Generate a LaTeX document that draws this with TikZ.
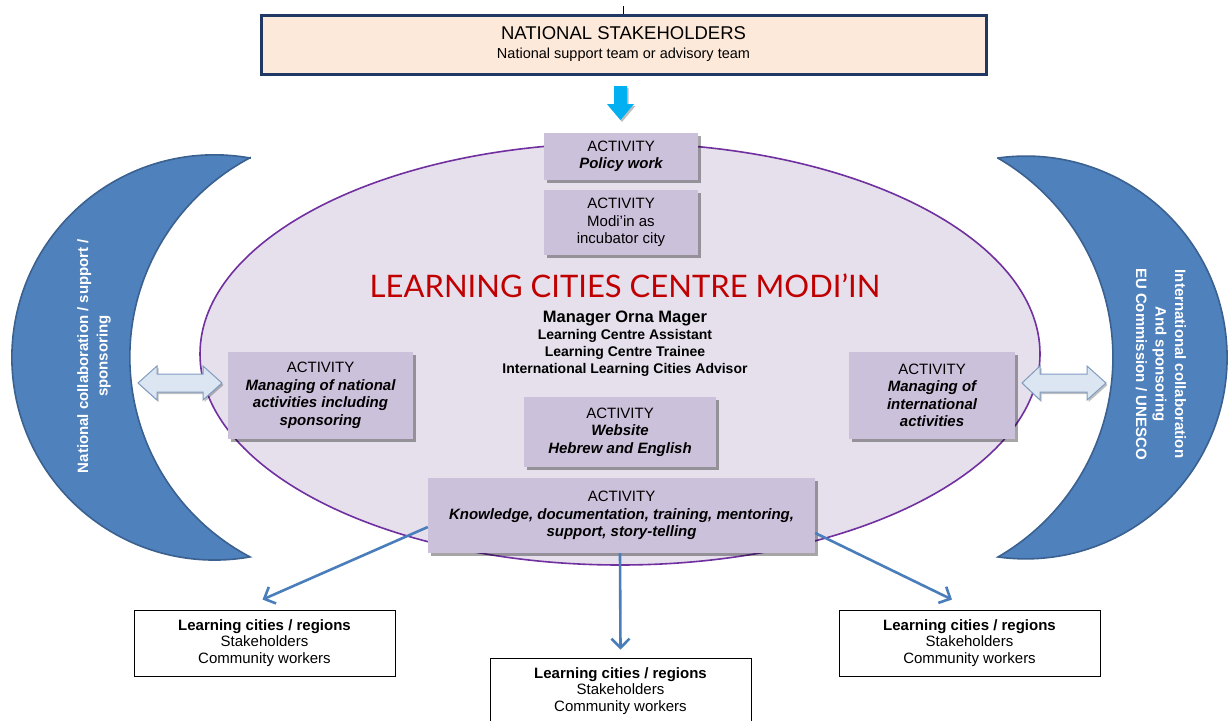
\documentclass[tikz,border=0pt]{standalone}
\usepackage{fontspec}
\setmainfont{Liberation Sans}
\newfontfamily\titlefont{Lato}
\usetikzlibrary{shadows,arrows.meta}

\definecolor{peach}{HTML}{FDE9D9}
\definecolor{navy}{HTML}{1F3864}
\definecolor{lilac}{HTML}{E6E0EC}
\definecolor{plum}{HTML}{7030A0}
\definecolor{actfill}{HTML}{CCC1DA}
\definecolor{moon}{HTML}{4F81BD}
\definecolor{moonedge}{HTML}{3A6190}
\definecolor{linkblue}{HTML}{4A7EBB}
\definecolor{sky}{HTML}{00B0F0}
\definecolor{pale}{HTML}{DCE6F2}
\definecolor{paleedge}{HTML}{7F9CC0}
\definecolor{titlered}{HTML}{C00000}

\begin{document}
\begin{tikzpicture}[x=1pt,y=1pt,
  act/.style={fill=actfill, draw=none, align=center, inner sep=0pt,
    font=\bfseries\itshape\fontsize{15}{17.5}\selectfont,
    drop shadow={shadow xshift=2.5pt,shadow yshift=-3pt,fill=black,opacity=0.35}},
  city/.style={draw=black, line width=0.9pt, fill=white, minimum width=261pt,
    minimum height=66pt, align=center, inner sep=0pt,
    font=\fontsize{15}{16.5}\selectfont},
  link/.style={draw=linkblue, line width=2.6pt,
    -{Straight Barb[length=9pt,width=18pt]}},
  moonshape/.style={fill=moon, draw=moonedge, line width=1.6pt},
  twoway/.style={fill=pale, draw=paleedge, line width=1pt,
    drop shadow={shadow xshift=1.5pt,shadow yshift=-2pt,fill=black,opacity=0.25}},
  moontext/.style={text=white, align=center,
    font=\bfseries\fontsize{15}{19.5}\selectfont},
]
% canvas
\fill[white] (0,0) rectangle (1228,-720);
\useasboundingbox (0,0) rectangle (1228,-720);

% side crescents
\path[moonshape] (250,-158)
  arc[start angle=79.9, end angle=280.1, radius=202.6pt]
  arc[start angle=242.1, end angle=117.9, radius=225.8pt] -- cycle;
\path[moonshape] (998,-158)
  arc[start angle=97.9, end angle=-97.9, radius=201.4pt]
  arc[start angle=-59.9, end angle=59.9, radius=230.5pt] -- cycle;
\node[moontext, rotate=90] (nattext) at (94,-356)
  {National collaboration / support /\\ sponsoring};
\node[moontext, rotate=-90] (inttext) at (1161,-364)
  {International collaboration\\ And sponsoring\\ EU Commission / UNESCO};

% the centre
\draw[fill=lilac, draw=plum, line width=1.6pt] (620,-354) ellipse [x radius=420pt, y radius=211pt];
\node[text=titlered, font=\titlefont\fontsize{31}{31}\selectfont, anchor=base] (title)
  at (625,-297) {LEARNING CITIES CENTRE MODI’IN};
\node[align=center, inner sep=0pt, font=\bfseries\fontsize{14}{17}\selectfont] (staff)
  at (625,-343.5)
  {{\fontsize{16.5}{17}\selectfont Manager Orna Mager}\\
   Learning Centre Assistant\\ Learning Centre Trainee\\ International Learning Cities Advisor};

% national stakeholders
\node[draw=navy, line width=3pt, fill=peach, minimum width=725pt, minimum height=59pt,
  inner sep=0pt, align=center, font=\fontsize{14.5}{19}\selectfont] (top) at (623.5,-44.5)
  {{\fontsize{18.5}{19}\selectfont NATIONAL STAKEHOLDERS}\\ National support team or advisory team};
\draw[line width=1.2pt] (top.north) -- ++(0,8);

% activities
\node[act, minimum width=154pt, minimum height=47pt] (policy) at (621,-156.5)
  {\textnormal{ACTIVITY}\\ Policy work};
\node[act, minimum width=154pt, minimum height=65pt] (modiin) at (621,-222.5)
  {\textnormal{ACTIVITY}\\ \textnormal{Modi’in as}\\ \textnormal{incubator city}};
\node[act, minimum width=185pt, minimum height=87pt] (natact) at (320.5,-395.5)
  {\textnormal{ACTIVITY}\\ Managing of national\\ activities including\\ sponsoring};
\node[act, minimum width=166pt, minimum height=87pt] (intact) at (932,-395.5)
  {\textnormal{ACTIVITY}\\ Managing of\\ international\\ activities};
\node[act, minimum width=192pt, minimum height=70pt] (web) at (620,-432)
  {\textnormal{ACTIVITY}\\ Website\\ Hebrew and English};
\node[act, minimum width=387pt, minimum height=75pt] (know) at (621.5,-515.5)
  {\textnormal{ACTIVITY}\\ Knowledge, documentation, training, mentoring,\\ support, story-telling};

% block arrows
\fill[sky, drop shadow={shadow xshift=1.5pt,shadow yshift=-2pt,fill=black,opacity=0.25}]
  (614,-86) -- (627,-86) -- (627,-104) -- (634,-104) -- (620.5,-120)
  -- (607,-104) -- (614,-104) -- cycle;
\path[twoway] (138,-383) -- (157,-366) -- (157,-374) -- (203,-374) -- (203,-366)
  -- (222,-383) -- (203,-400) -- (203,-392) -- (157,-392) -- (157,-400) -- cycle;
\path[twoway] (1022,-383) -- (1040,-366) -- (1040,-374) -- (1087,-374) -- (1087,-366)
  -- (1106,-383) -- (1087,-400) -- (1087,-392) -- (1040,-392) -- (1040,-400) -- cycle;

% learning cities
\node[city] (lc1) at (264.5,-643)
  {\textbf{Learning cities / regions}\\ Stakeholders\\ Community workers};
\node[city] (lc2) at (620.5,-691)
  {\textbf{Learning cities / regions}\\ Stakeholders\\ Community workers};
\node[city] (lc3) at (969.5,-643)
  {\textbf{Learning cities / regions}\\ Stakeholders\\ Community workers};

\draw[link] ([yshift=-11.5pt]know.west) -- ([shift={(-2pt,10pt)}]lc1.north);
\draw[link] ([xshift=-1.5pt]know.south) -- ([yshift=8pt]lc2.north);
\draw[link] ([yshift=-17.5pt]know.east) -- ([shift={(-17.5pt,10pt)}]lc3.north);
\end{tikzpicture}
\end{document}
